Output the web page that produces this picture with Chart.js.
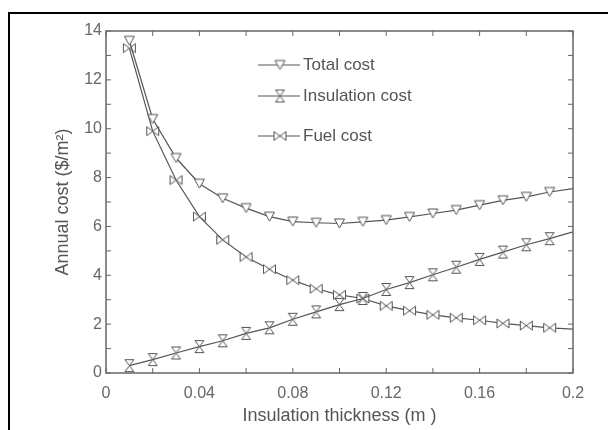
<!DOCTYPE html>
<html>
<head>
<meta charset="utf-8">
<script src="https://cdn.jsdelivr.net/npm/chart.js@4.4.0/dist/chart.umd.min.js"></script>
<style>
  html, body { margin: 0; padding: 0; background: #fff; }
  #wrap { position: relative; width: 608px; height: 430px; overflow: hidden; }
  #frame { position: absolute; left: 8px; top: 12px; width: 640px; height: 460px;
           border-left: 2px solid #000; border-top: 2px solid #000; }
  #chart { position: absolute; left: 0; top: 0; }
</style>
</head>
<body>
<div id="wrap">
  <div id="frame"></div>
  <canvas id="chart" width="608" height="430"></canvas>
</div>
<script>
// data
const thickness = [0.01, 0.02, 0.03, 0.04, 0.05, 0.06, 0.07, 0.08, 0.09, 0.10,
                   0.11, 0.12, 0.13, 0.14, 0.15, 0.16, 0.17, 0.18, 0.19, 0.20];
const totalCost = [13.6, 10.4, 8.8, 7.75, 7.15, 6.75, 6.4, 6.2, 6.15, 6.12,
                   6.19, 6.26, 6.39, 6.53, 6.67, 6.87, 7.07, 7.21, 7.41, 7.55];
const insulationCost = [0.3, 0.55, 0.82, 1.08, 1.32, 1.62, 1.85, 2.2, 2.5, 2.8,
                        3.05, 3.42, 3.7, 4.02, 4.33, 4.65, 4.95, 5.25, 5.5, 5.78];
const fuelCost = [13.3, 9.9, 7.9, 6.4, 5.45, 4.75, 4.25, 3.8, 3.45, 3.2,
                  3.05, 2.75, 2.55, 2.38, 2.26, 2.16, 2.03, 1.94, 1.85, 1.8];
const seriesNames = ['Total cost', 'Insulation cost', 'Fuel cost'];

const xTicks = [0, 0.04, 0.08, 0.12, 0.16, 0.2];
const xTickLabels = ['0', '0.04', '0.08', '0.12', '0.16', '0.2'];
const yTicks = [0, 2, 4, 6, 8, 10, 12, 14];
const yTickLabels = ['0', '2', '4', '6', '8', '10', '12', '14'];
const xTickMarks = [0, 0.02, 0.04, 0.06, 0.08, 0.1, 0.12, 0.14, 0.16, 0.18, 0.2];
const yTickMarks = [0, 1, 2, 3, 4, 5, 6, 7, 8, 9, 10, 11, 12, 13, 14];

const LINE = '#555';
const FONT = "'Liberation Sans', Arial, sans-serif";

// hollow markers like the original plot symbols
function makeMarker(kind) {
  const c = document.createElement('canvas');
  c.width = 15; c.height = 15;
  const g = c.getContext('2d');
  g.strokeStyle = LINE; g.lineWidth = 1; g.fillStyle = '#fff';
  g.beginPath();
  if (kind === 'down') {
    g.moveTo(2.5, 3); g.lineTo(12.5, 3); g.lineTo(7.5, 12);
  } else if (kind === 'hourglass') {
    g.moveTo(3, 1.5); g.lineTo(12, 1.5); g.lineTo(3, 13.5); g.lineTo(12, 13.5);
  } else {
    g.moveTo(1.5, 3); g.lineTo(13.5, 12); g.lineTo(13.5, 3); g.lineTo(1.5, 12);
  }
  g.closePath();
  g.fill(); g.stroke();
  return c;
}
const markers = [makeMarker('down'), makeMarker('hourglass'), makeMarker('bowtie')];

const toPoints = ys => thickness.map((x, i) => ({ x: x, y: ys[i] }));
const lastHidden = ctx => ctx.dataIndex === thickness.length - 1 ? 0 : 5;

function series(i, ys) {
  return {
    label: seriesNames[i],
    data: toPoints(ys),
    borderColor: LINE,
    borderWidth: 1.2,
    pointStyle: markers[i],
    pointRadius: lastHidden,
    tension: 0
  };
}

// box, inward ticks and legend inside the plot
const decor = {
  id: 'decor',
  afterDatasetsDraw(chart) {
    const { ctx, chartArea: a, scales: { x, y } } = chart;
    ctx.save();
    ctx.strokeStyle = '#666';
    ctx.lineWidth = 1.5;
    ctx.strokeRect(a.left, a.top, a.right - a.left, a.bottom - a.top);
    ctx.lineWidth = 1;
    ctx.beginPath();
    xTickMarks.forEach(v => {
      const px = x.getPixelForValue(v);
      ctx.moveTo(px, a.bottom); ctx.lineTo(px, a.bottom - 5);
      ctx.moveTo(px, a.top); ctx.lineTo(px, a.top + 5);
    });
    yTickMarks.forEach(v => {
      const py = y.getPixelForValue(v);
      ctx.moveTo(a.left, py); ctx.lineTo(a.left + 5, py);
      ctx.moveTo(a.right, py); ctx.lineTo(a.right - 5, py);
    });
    ctx.stroke();

    const rowY = [65, 96, 136];
    ctx.font = '17px ' + FONT;
    ctx.fillStyle = '#555';
    ctx.textBaseline = 'middle';
    chart.data.datasets.forEach((ds, i) => {
      ctx.strokeStyle = LINE;
      ctx.lineWidth = 1.2;
      ctx.beginPath();
      ctx.moveTo(258, rowY[i]); ctx.lineTo(300, rowY[i]);
      ctx.stroke();
      ctx.drawImage(markers[i], 280 - 7.5, rowY[i] - 7.5);
      ctx.fillText(ds.label, 303, rowY[i]);
    });
    ctx.restore();
  }
};

new Chart(document.getElementById('chart'), {
  type: 'line',
  data: {
    datasets: [series(0, totalCost), series(1, insulationCost), series(2, fuelCost)]
  },
  options: {
    responsive: false,
    animation: false,
    devicePixelRatio: 1,
    layout: { padding: { left: 52, top: 31, right: 35, bottom: 3 } },
    plugins: { legend: { display: false }, tooltip: { enabled: false } },
    scales: {
      x: {
        type: 'linear', min: 0, max: 0.2,
        grid: { display: false, drawTicks: false },
        border: { display: false },
        afterBuildTicks: s => { s.ticks = xTicks.map(v => ({ value: v })); },
        afterFit: s => { s.height = 430 - 3 - 373; },
        ticks: {
          autoSkip: false, maxRotation: 0, padding: 11,
          color: '#666', font: { family: FONT, size: 16 },
          callback: (v, i) => xTickLabels[i]
        },
        title: {
          display: true, text: 'Insulation thickness (m )',
          color: '#555', font: { family: FONT, size: 18 }, padding: 0
        }
      },
      y: {
        min: 0, max: 14,
        grid: { display: false, drawTicks: false },
        border: { display: false },
        afterBuildTicks: s => { s.ticks = yTicks.map(v => ({ value: v })); },
        afterFit: s => { s.width = 106 - 52; },
        ticks: {
          autoSkip: false, padding: 4,
          color: '#666', font: { family: FONT, size: 16 },
          callback: (v, i) => yTickLabels[i]
        },
        title: {
          display: true, text: 'Annual cost ($/m²)',
          color: '#555', font: { family: FONT, size: 18 }, padding: 0
        }
      }
    }
  },
  plugins: [decor]
});
</script>
</body>
</html>
